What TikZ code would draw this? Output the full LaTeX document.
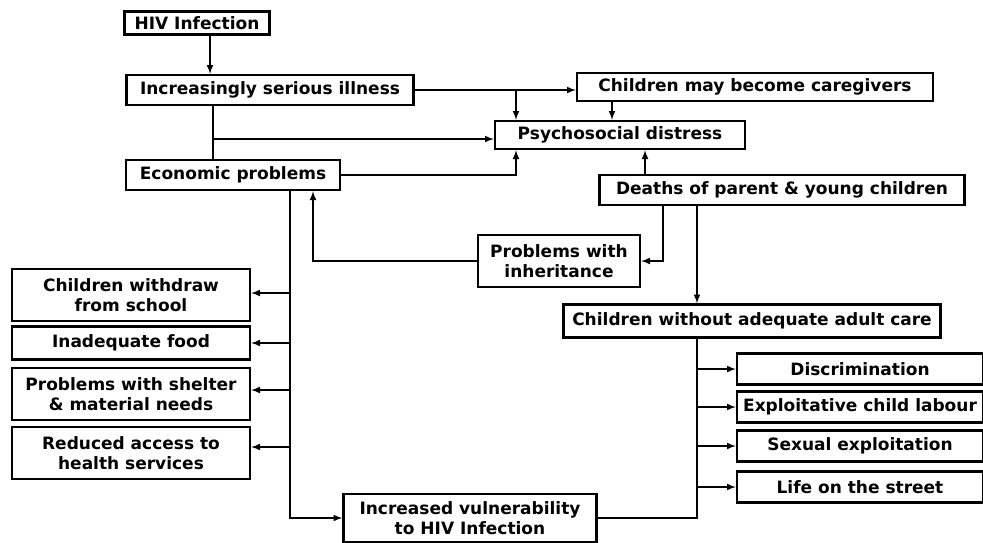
\documentclass[tikz,border=0pt]{standalone}
\usepackage{fontspec}
\setmainfont{DejaVu Sans}
\tikzset{
  box/.style={draw, line width=2.4pt, font=\bfseries\fontsize{17}{19.5}\selectfont, align=center, inner sep=0pt},
  link/.style={line width=2pt, >=latex},
}
\begin{document}
\begin{tikzpicture}[x=1pt, y=-1pt]
  \useasboundingbox (0,0) rectangle (983,542);
  \node(hiv)[box, minimum width=145pt, minimum height=23pt] at(197,23) {HIV Infection};
  \node(illness)[box, minimum width=287pt, minimum height=30pt] at(270,90) {Increasingly serious illness};
  \node(carers)[box, minimum width=356pt, minimum height=28pt] at(755,87) {Children may become caregivers};
  \node(psych)[box, minimum width=250pt, minimum height=28pt] at(620,135) {Psychosocial distress};
  \node(econ)[box, minimum width=214pt, minimum height=30pt] at(233,175) {Economic problems};
  \node(deaths)[box, minimum width=365pt, minimum height=30pt] at(782,190) {Deaths of parent \& young children};
  \node(inherit)[box, minimum width=162pt, minimum height=52pt] at(559,261) {Problems with\\inheritance};
  \node(adult)[box, minimum width=377pt, minimum height=33pt] at(752,321) {Children without adequate adult care};
  \node(vuln)[box, minimum width=253pt, minimum height=48pt] at(470,518) {Increased vulnerability\\to HIV Infection};
  \foreach \y/\h/\n/\t in {295/52/1/{Children withdraw\\from school},343/33/2/{Inadequate food},394/52/3/{Problems with shelter\\\& material needs},453/52/4/{Reduced access to\\health services}}{%
    \node(L\n)[box, minimum width=238pt, minimum height=\h pt] at(131,\y) {\t};
  }
  \foreach \y/\n/\t in {369/1/Discrimination,407/2/Exploitative child labour,446/3/Sexual exploitation,487/4/Life on the street}{%
    \node(R\n)[box, minimum width=246pt, minimum height=31pt] at(860,\y) {\t};
  }
  \coordinate (jtop) at (516,90);
  \coordinate (jleft) at (213,139);
  \draw[link,->] ([xshift=13pt]hiv.south) -- ([xshift=13pt]hiv.south |- illness.north);
  \draw[link,->] (illness.east) -- (illness.east -| carers.west);
  \draw[link,->] (jtop) -- (jtop |- psych.north);
  \draw[link,->] (carers.south -| 612,0) -- (psych.north -| 612,0);
  \draw[link] (illness.south -| jleft) -- (econ.north -| jleft);
  \draw[link,->] (jleft) -- (jleft -| psych.west);
  \draw[link,->] (econ.east) -- (econ.east -| jtop) -- (jtop |- psych.south);
  \draw[link,->] (deaths.north -| 645,0) -- (psych.south -| 645,0);
  \draw[link,->] (deaths.south -| 663,0) |- (inherit.east);
  \draw[link,->] (deaths.south -| 697,0) -- (adult.north -| 697,0);
  \draw[link,->] (inherit.west) -| (econ.south -| 313,0);
  % trunk from economic problems down to vulnerability
  \draw[link,->] (econ.south -| 290,0) |- (vuln.west);
  \foreach \y/\n in {293/1,343/2,390/3,447/4}{%
    \draw[link,->] (290,\y) -- (L\n.east |- 0,\y);
  }
  \draw[link] (adult.south -| 697,0) |- (vuln.east);
  \foreach \n in {1,2,3,4}{%
    \draw[link,->] (R\n.west -| 697,0) -- (R\n.west);
  }
\end{tikzpicture}
\end{document}
